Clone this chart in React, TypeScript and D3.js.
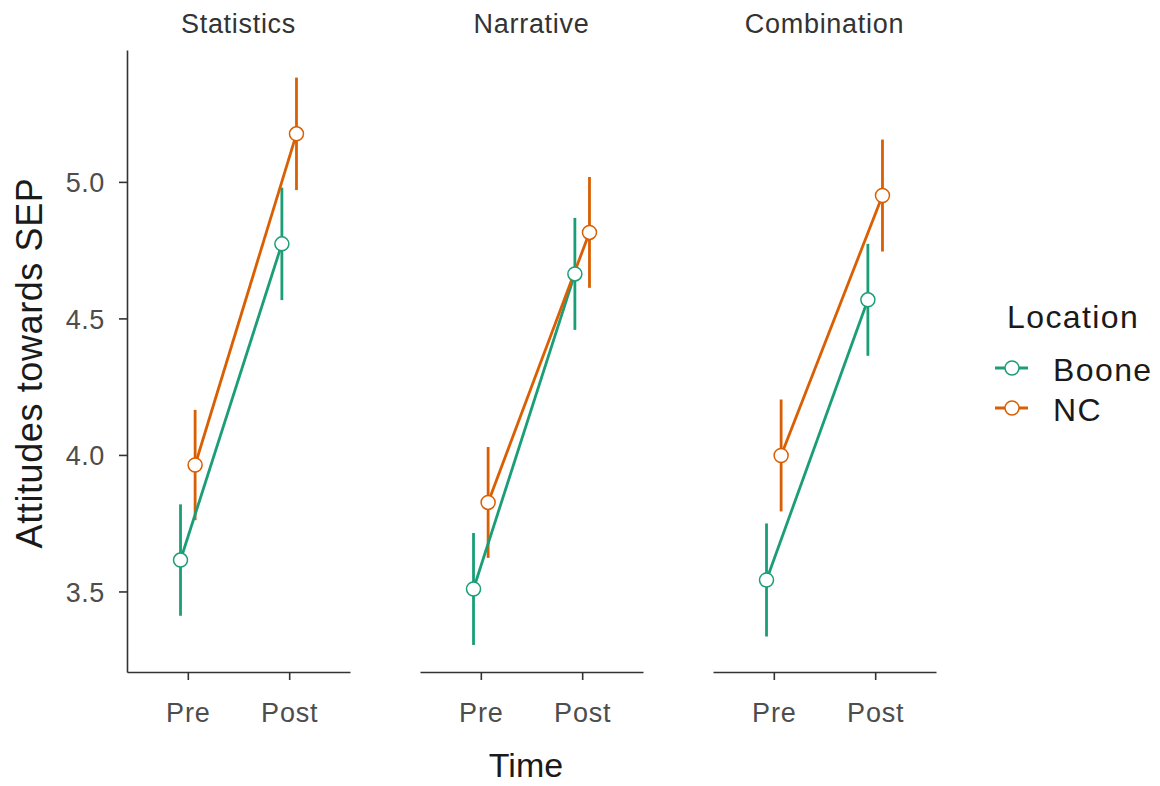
import React, { useRef, useEffect } from 'react';
import * as d3 from 'd3';

const conditions = ['Statistics', 'Narrative', 'Combination'];
const times = ['Pre', 'Post'];
const locations = ['Boone', 'NC'];

// means per condition: [Pre, Post]
const booneMeans = [[3.615, 4.773], [3.509, 4.663], [3.542, 4.568]];
const ncMeans = [[3.963, 5.176], [3.826, 4.815], [3.998, 4.950]];
// half-width of the error bars
const booneErr = [[0.204, 0.206], [0.205, 0.205], [0.207, 0.205]];
const ncErr = [[0.202, 0.206], [0.203, 0.203], [0.205, 0.205]];

const yTicks = [3.5, 4.0, 4.5, 5.0];

const App = () => {
  const svgRef = useRef(null);

  const renderChart = () => {
    const width = 1160;
    const height = 786;
    const colors = { Boone: '#1B9E77', NC: '#D95F02' };
    const axisColor = '#333333';
    const textColor = '#4D4D4D';
    const font = 'Arial, "Liberation Sans", sans-serif';

    const panelLeft = 127;
    const panelWidth = 223;
    const panelStep = 293;
    const top = 50;
    const bottom = 672;

    const svg = d3.select(svgRef.current);
    svg.selectAll('*').remove();
    svg.append('rect').attr('width', width).attr('height', height).attr('fill', '#fff');

    const y = d3.scaleLinear().domain([3.205, 5.483]).range([bottom, top]);

    const series = [
      { name: 'Boone', means: booneMeans, err: booneErr, dodge: -1 },
      { name: 'NC', means: ncMeans, err: ncErr, dodge: 1 }
    ];

    // y axis on the first panel only
    const yAxis = svg.append('g')
      .attr('transform', `translate(${panelLeft},0)`)
      .call(d3.axisLeft(y).tickValues(yTicks).tickFormat(d3.format('.1f')).tickSize(8).tickSizeOuter(0));
    yAxis.select('.domain').attr('stroke', axisColor).attr('stroke-width', 1.6);
    yAxis.selectAll('.tick line').attr('stroke', axisColor).attr('stroke-width', 1.6);
    yAxis.selectAll('.tick text')
      .attr('fill', textColor).attr('font-family', font).attr('font-size', 27)
      .attr('letter-spacing', 0.6).attr('x', -22).attr('dy', '0.36em');

    conditions.forEach((cond, ci) => {
      const x0 = panelLeft + ci * panelStep;
      const x = d3.scalePoint().domain(times).range([x0, x0 + panelWidth]).padding(0.6);
      const dodge = 7.3;

      const g = svg.append('g');

      const xAxis = g.append('g')
        .attr('transform', `translate(0,${bottom})`)
        .call(d3.axisBottom(x).tickSize(8).tickSizeOuter(0));
      xAxis.select('.domain').attr('stroke', axisColor).attr('stroke-width', 1.6);
      xAxis.selectAll('.tick line').attr('stroke', axisColor).attr('stroke-width', 1.6);
      xAxis.selectAll('.tick text')
        .attr('fill', textColor).attr('font-family', font).attr('font-size', 27)
        .attr('letter-spacing', 0.8).attr('y', 50).attr('dy', 0);

      g.append('text')
        .attr('x', x0 + panelWidth / 2)
        .attr('y', 33)
        .attr('text-anchor', 'middle')
        .attr('font-family', font)
        .attr('font-size', 27)
        .attr('letter-spacing', 0.7)
        .attr('fill', '#333')
        .text(cond);

      const px = (t, s) => x(times[t]) + s.dodge * dodge;

      // error bars
      series.forEach(s => {
        times.forEach((_, t) => {
          const m = s.means[ci][t];
          const e = s.err[ci][t];
          g.append('line')
            .attr('x1', px(t, s)).attr('x2', px(t, s))
            .attr('y1', y(m - e)).attr('y2', y(m + e))
            .attr('stroke', colors[s.name]).attr('stroke-width', 2.8);
        });
      });

      // lines
      series.forEach(s => {
        const line = d3.line().x(d => d[0]).y(d => d[1]);
        g.append('path')
          .attr('d', line(times.map((_, t) => [px(t, s), y(s.means[ci][t])])))
          .attr('fill', 'none')
          .attr('stroke', colors[s.name])
          .attr('stroke-width', 2.8);
      });

      // points
      series.forEach(s => {
        times.forEach((_, t) => {
          g.append('circle')
            .attr('cx', px(t, s)).attr('cy', y(s.means[ci][t]))
            .attr('r', 7)
            .attr('fill', '#fff')
            .attr('stroke', colors[s.name])
            .attr('stroke-width', 1.5);
        });
      });
    });

    // axis titles
    svg.append('text')
      .attr('transform', `translate(42,${363}) rotate(-90)`)
      .attr('text-anchor', 'middle')
      .attr('font-family', font)
      .attr('font-size', 36)
      .attr('letter-spacing', 0.6)
      .attr('fill', '#1a1a1a')
      .text('Attitudes towards SEP');

    svg.append('text')
      .attr('x', 526)
      .attr('y', 777)
      .attr('text-anchor', 'middle')
      .attr('font-family', font)
      .attr('font-size', 34)
      .attr('fill', '#1a1a1a')
      .text('Time');

    // legend
    const legend = svg.append('g').attr('transform', 'translate(995,0)');
    legend.append('text')
      .attr('x', 12).attr('y', 328)
      .attr('font-family', font).attr('font-size', 32).attr('letter-spacing', 1.4).attr('fill', '#1a1a1a')
      .text('Location');

    locations.forEach((loc, i) => {
      const ky = 368 + i * 40;
      legend.append('line')
        .attr('x1', 0).attr('x2', 33).attr('y1', ky).attr('y2', ky)
        .attr('stroke', colors[loc]).attr('stroke-width', 2.8);
      legend.append('circle')
        .attr('cx', 17).attr('cy', ky).attr('r', 7)
        .attr('fill', '#fff').attr('stroke', colors[loc]).attr('stroke-width', 1.5);
      legend.append('text')
        .attr('x', 58).attr('y', ky + 13)
        .attr('font-family', font).attr('font-size', 32).attr('letter-spacing', 1.4).attr('fill', '#1a1a1a')
        .text(loc);
    });
  };

  useEffect(() => {
    renderChart();
  }, []);

  return (
    <svg ref={svgRef} width={1160} height={786}
      style={{ position: 'absolute', left: 0, top: 0, display: 'block' }}></svg>
  );
};

export default App;
